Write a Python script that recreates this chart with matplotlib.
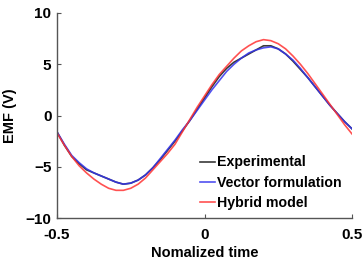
import numpy as np
import matplotlib.pyplot as plt

# normalized time, step 0.025
t = np.linspace(-0.5, 0.5, 41)

experimental = [-1.6, -2.9, -4.0, -4.7, -5.3, -5.6, -5.9, -6.2, -6.5, -6.7,
                -6.6, -6.3, -5.8, -5.1, -4.3, -3.4, -2.5, -1.5, -0.5, 0.6,
                1.7, 2.8, 3.8, 4.6, 5.2, 5.6, 6.0, 6.4, 6.8, 6.8,
                6.5, 6.0, 5.3, 4.5, 3.7, 2.8, 1.9, 1.0, 0.2, -0.6, -1.3]

vector = [-1.6, -2.8, -3.9, -4.6, -5.2, -5.6, -5.9, -6.2, -6.5, -6.7,
          -6.6, -6.3, -5.8, -5.1, -4.2, -3.3, -2.4, -1.4, -0.5, 0.5,
          1.5, 2.5, 3.4, 4.3, 5.0, 5.6, 6.1, 6.4, 6.6, 6.7,
          6.5, 6.0, 5.4, 4.6, 3.7, 2.8, 1.9, 1.0, 0.2, -0.6, -1.3]

hybrid = [-1.7, -2.9, -4.0, -4.9, -5.6, -6.2, -6.7, -7.1, -7.3, -7.3,
          -7.1, -6.7, -6.1, -5.3, -4.5, -3.7, -2.8, -1.6, -0.4, 0.8,
          1.9, 3.0, 4.0, 4.8, 5.6, 6.3, 6.8, 7.2, 7.4, 7.3,
          7.0, 6.5, 5.8, 5.0, 4.1, 3.1, 2.1, 1.1, 0.1, -0.9, -1.8]

plt.rcParams['font.family'] = ['Liberation Sans', 'DejaVu Sans']
plt.rcParams['font.weight'] = 'bold'

fig = plt.figure(figsize=(3.64, 2.63), dpi=100)
ax = fig.add_axes([57 / 364, 45 / 263, 295 / 364, 205 / 263])

ax.plot(t, experimental, color='#3a3a3a', lw=1.2, label='Experimental')
ax.plot(t, vector, color='#3333ee', lw=1.2, alpha=0.85, label='Vector formulation')
ax.plot(t, hybrid, color='#ff3333', lw=1.2, alpha=0.85, label='Hybrid model')

ax.set_xlim(-0.5, 0.5)
ax.set_ylim(-10, 10)
ax.set_xticks([-0.5, 0, 0.5])
ax.set_xticklabels(['-0.5', '0', '0.5'])
ax.set_yticks([-10, -5, 0, 5, 10])

for s in ['top', 'right']:
    ax.spines[s].set_visible(False)
for s in ['left', 'bottom']:
    ax.spines[s].set_color('#555555')
    ax.spines[s].set_linewidth(1.0)
ax.tick_params(direction='in', length=3, color='#555555', labelsize=11)
ax.tick_params(axis='x', pad=7)
ax.tick_params(axis='y', pad=4)
for lab in ax.get_xticklabels() + ax.get_yticklabels():
    lab.set_fontweight('bold')

ax.set_xlabel('Nomalized time', fontsize=10.5, fontweight='bold', labelpad=3)
ax.set_ylabel('EMF (V)', fontsize=10.5, fontweight='bold', labelpad=6)

ax.legend(loc='lower right', bbox_to_anchor=(0.99, 0.0), frameon=False,
          handlelength=1.0, handletextpad=0.15,
          labelspacing=0.45, borderaxespad=0.15,
          prop={'weight': 'bold', 'size': 10.2})

fig.savefig('out.png', dpi=100)
